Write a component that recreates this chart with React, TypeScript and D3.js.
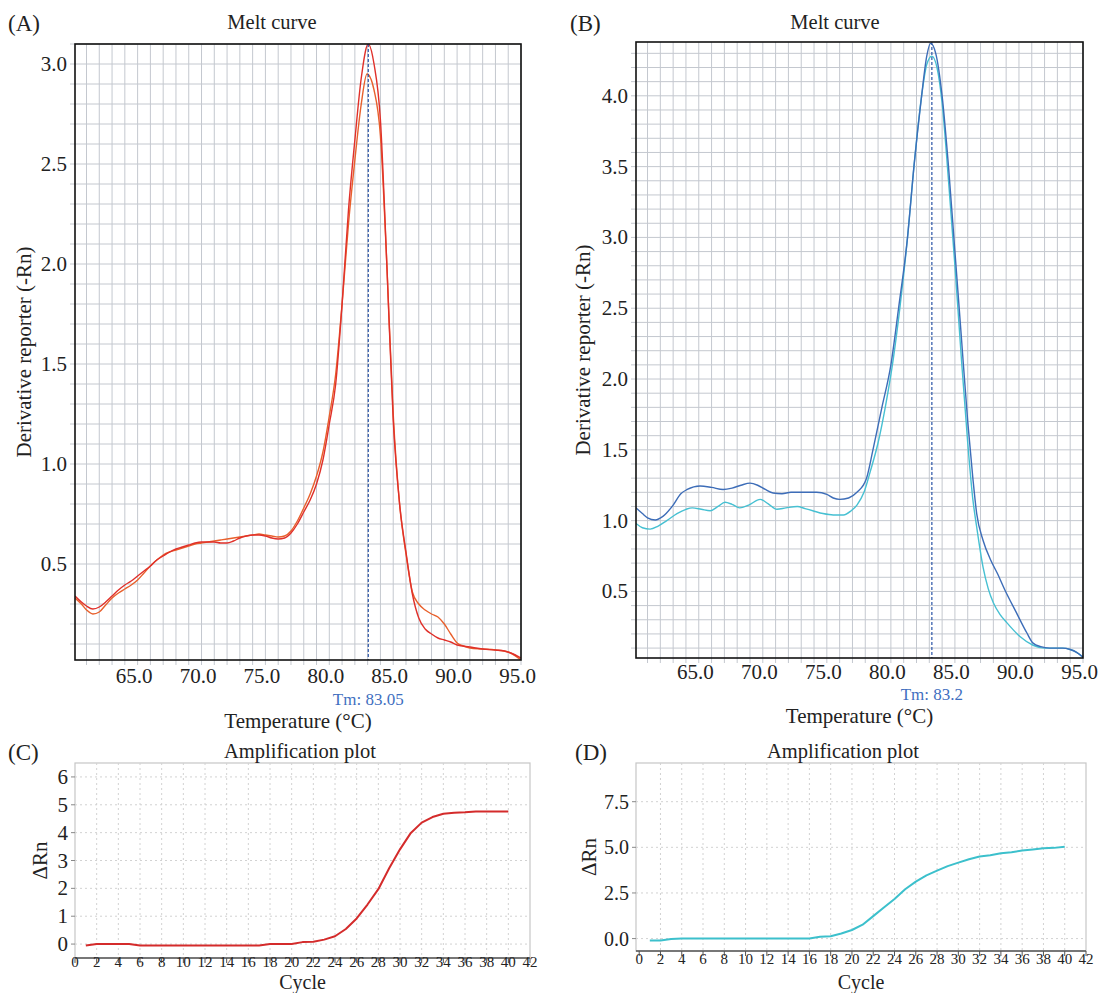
import React from "react";
import * as d3 from "d3";

const FONT = "'Liberation Serif', 'Times New Roman', serif";

// ---------- Panel A: melt curves (temperature, derivative) ----------
const meltA1: [number, number][] = [
  [60.1, 0.34], [60.6, 0.31], [61.0, 0.29], [61.5, 0.275], [62.0, 0.285], [62.5, 0.31], [63.0, 0.34],
  [63.5, 0.37], [64.0, 0.395], [64.5, 0.415], [65.0, 0.44], [65.5, 0.465], [66.0, 0.49], [66.5, 0.52],
  [67.0, 0.54], [67.5, 0.56], [68.0, 0.575], [68.5, 0.585], [69.0, 0.595], [69.5, 0.605], [70.0, 0.61],
  [70.5, 0.61], [71.0, 0.61], [71.5, 0.605], [72.0, 0.605], [72.5, 0.615], [73.0, 0.63], [73.5, 0.64],
  [74.0, 0.645], [74.5, 0.645], [75.0, 0.64], [75.5, 0.63], [76.0, 0.625], [76.5, 0.63], [77.0, 0.655],
  [77.5, 0.7], [78.0, 0.76], [78.5, 0.82], [79.0, 0.9], [79.5, 1.02], [80.0, 1.2], [80.5, 1.4],
  [81.0, 1.8], [81.5, 2.27], [82.0, 2.62], [82.5, 2.93], [83.05, 3.1], [83.5, 3.0], [84.0, 2.72],
  [84.5, 2.0], [85.0, 1.22], [85.5, 0.8], [86.0, 0.56], [86.5, 0.35], [87.0, 0.23], [87.5, 0.175],
  [88.0, 0.15], [88.5, 0.13], [89.0, 0.12], [89.5, 0.11], [90.0, 0.095], [91.0, 0.085], [92.0, 0.075],
  [93.0, 0.07], [93.7, 0.065], [94.2, 0.055], [95.0, 0.03],
];
const meltA2: [number, number][] = [
  [60.1, 0.33], [60.6, 0.3], [61.0, 0.27], [61.5, 0.25], [62.0, 0.26], [62.5, 0.295], [63.0, 0.33],
  [63.5, 0.355], [64.0, 0.375], [64.5, 0.395], [65.0, 0.42], [65.5, 0.455], [66.0, 0.49], [66.5, 0.52],
  [67.0, 0.545], [67.5, 0.56], [68.0, 0.57], [68.5, 0.58], [69.0, 0.59], [69.5, 0.6], [70.0, 0.605],
  [70.5, 0.61], [71.0, 0.615], [71.5, 0.62], [72.0, 0.625], [72.5, 0.63], [73.0, 0.635], [73.5, 0.64],
  [74.0, 0.645], [74.5, 0.65], [75.0, 0.645], [75.5, 0.64], [76.0, 0.635], [76.5, 0.64], [77.0, 0.665],
  [77.5, 0.715], [78.0, 0.78], [78.5, 0.85], [79.0, 0.94], [79.5, 1.06], [80.0, 1.24], [80.5, 1.45],
  [81.0, 1.8], [81.5, 2.2], [82.0, 2.52], [82.5, 2.8], [82.95, 2.95], [83.5, 2.87], [84.0, 2.64],
  [84.5, 2.0], [85.0, 1.25], [85.5, 0.8], [86.0, 0.55], [86.5, 0.36], [87.0, 0.3], [87.5, 0.27],
  [88.0, 0.25], [88.5, 0.235], [89.0, 0.2], [89.5, 0.15], [90.0, 0.105], [90.5, 0.09], [91.0, 0.08],
  [92.0, 0.075], [93.0, 0.07], [94.0, 0.06], [95.0, 0.02],
];

// ---------- Panel B: melt curves ----------
const meltB1: [number, number][] = [
  [60.1, 1.09], [60.6, 1.05], [61.0, 1.02], [61.6, 1.005], [62.2, 1.03], [63.0, 1.11], [63.6, 1.19],
  [64.1, 1.22], [65.1, 1.245], [66.0, 1.235], [66.9, 1.22], [67.6, 1.23], [68.3, 1.25], [69.0, 1.265],
  [69.6, 1.25], [70.2, 1.22], [70.8, 1.195], [71.5, 1.19], [72.2, 1.2], [73.0, 1.2], [74.2, 1.2],
  [75.0, 1.185], [75.5, 1.16], [76.0, 1.15], [76.7, 1.16], [77.35, 1.2], [78.1, 1.3], [78.6, 1.5],
  [79.3, 1.8], [80.0, 2.1], [80.6, 2.5], [81.3, 3.0], [81.8, 3.5], [82.4, 4.0], [82.8, 4.28],
  [83.1, 4.37], [83.5, 4.3], [84.0, 4.0], [84.5, 3.5], [85.0, 2.9], [85.5, 2.3], [86.0, 1.7],
  [86.4, 1.3], [86.7, 1.05], [87.2, 0.86], [87.8, 0.72], [88.3, 0.63], [88.9, 0.51], [89.8, 0.35],
  [90.6, 0.21], [91.1, 0.135], [91.7, 0.11], [92.4, 0.1], [93.4, 0.1], [94.0, 0.09], [94.5, 0.07],
  [95.0, 0.035],
];
const meltB2: [number, number][] = [
  [60.1, 0.98], [60.6, 0.95], [61.2, 0.94], [61.8, 0.96], [62.5, 1.0], [63.3, 1.05], [64.0, 1.08],
  [64.5, 1.09], [65.2, 1.08], [65.9, 1.07], [66.5, 1.1], [67.05, 1.13], [67.6, 1.115], [68.2, 1.09],
  [68.9, 1.11], [69.8, 1.15], [70.4, 1.12], [71.1, 1.08], [71.8, 1.09], [72.7, 1.1], [73.3, 1.085],
  [73.9, 1.07], [74.7, 1.05], [75.5, 1.04], [76.3, 1.04], [76.9, 1.07], [77.35, 1.11], [77.9, 1.2],
  [78.4, 1.35], [79.0, 1.55], [79.6, 1.82], [80.2, 2.15], [80.7, 2.5], [81.3, 3.0], [81.8, 3.5],
  [82.4, 4.0], [82.8, 4.22], [83.2, 4.28], [83.6, 4.2], [84.0, 3.95], [84.5, 3.4], [85.0, 2.8],
  [85.5, 2.15], [86.0, 1.55], [86.4, 1.15], [86.7, 0.955], [87.2, 0.67], [87.6, 0.52], [88.0, 0.42],
  [88.5, 0.34], [89.05, 0.28], [90.1, 0.18], [91.1, 0.12], [92.0, 0.1], [93.4, 0.1], [94.0, 0.09],
  [94.5, 0.07], [95.0, 0.035],
];

const meltXTicks = [65, 70, 75, 80, 85, 90, 95];
const meltYTicksA = [0.5, 1.0, 1.5, 2.0, 2.5, 3.0];
const meltYTicksB = [0.5, 1.0, 1.5, 2.0, 2.5, 3.0, 3.5, 4.0];

// ---------- Panels C / D: amplification ----------
const cycles = [
  1, 2, 3, 4, 5, 6, 7, 8, 9, 10, 11, 12, 13, 14, 15, 16, 17, 18, 19, 20,
  21, 22, 23, 24, 25, 26, 27, 28, 29, 30, 31, 32, 33, 34, 35, 36, 37, 38, 39, 40,
];
const ampC = [
  -0.05, 0.0, 0.0, 0.0, 0.0, -0.05, -0.05, -0.05, -0.05, -0.05, -0.05, -0.05, -0.05, -0.05, -0.05,
  -0.05, -0.05, 0.0, 0.0, 0.0, 0.07, 0.08, 0.16, 0.28, 0.54, 0.92, 1.42, 1.97, 2.72, 3.4, 3.99, 4.36,
  4.56, 4.68, 4.71, 4.73, 4.76, 4.76, 4.76, 4.76,
];
const ampD = [
  -0.1, -0.1, -0.02, 0, 0, 0, 0, 0, 0, 0, 0, 0, 0, 0, 0, 0, 0.1, 0.13, 0.28, 0.47, 0.76, 1.23, 1.7,
  2.17, 2.7, 3.12, 3.46, 3.72, 3.97, 4.16, 4.35, 4.5, 4.57, 4.67, 4.73, 4.82, 4.88, 4.95, 4.97, 5.03,
];
const ampXTicks = [0, 2, 4, 6, 8, 10, 12, 14, 16, 18, 20, 22, 24, 26, 28, 30, 32, 34, 36, 38, 40, 42];
const ampYTicksC = [0, 1, 2, 3, 4, 5, 6];
const ampYTicksD = [0, 2.5, 5.0, 7.5];

type MeltProps = {
  id: string;
  letter: string;
  letterX: number;
  left: number; right: number; top: number; bottom: number;
  xDomain: [number, number];
  yDomain: [number, number];
  yTicks: number[];
  series: { data: [number, number][]; color: string }[];
  tm: number;
  tmLabel: string;
  titleX: number;
  yLabelX: number;
  tickBase: number;
  tmBase: number;
  xLabelBase: number;
};

function MeltPanel(p: MeltProps) {
  const x = d3.scaleLinear().domain(p.xDomain).range([p.left, p.right]);
  const y = d3.scaleLinear().domain(p.yDomain).range([p.bottom, p.top]);
  const line = d3
    .line<[number, number]>()
    .x((d) => x(d[0]))
    .y((d) => y(d[1]))
    .curve(d3.curveMonotoneX);
  const vGrid = d3.range(Math.ceil(p.xDomain[0]), Math.floor(p.xDomain[1]) + 1);
  const hGrid = d3.range(1, Math.floor(p.yDomain[1] * 10 + 1e-6) + 1).map((i) => i / 10);
  const gridColor = "#c4c8cf";
  const cx = (p.left + p.right) / 2;
  const cy = (p.top + p.bottom) / 2;
  return (
    <g>
      <defs>
        <clipPath id={"clip" + p.id}>
          <rect x={p.left} y={p.top} width={p.right - p.left} height={p.bottom - p.top} />
        </clipPath>
      </defs>
      {vGrid.map((v) => (
        <line key={"v" + v} x1={x(v)} x2={x(v)} y1={p.top} y2={p.bottom + 5} stroke={gridColor} strokeWidth={1} />
      ))}
      {hGrid.map((v) => (
        <line key={"h" + v} x1={p.left - 5} x2={p.right} y1={y(v)} y2={y(v)} stroke={gridColor} strokeWidth={1} />
      ))}
      <g clipPath={`url(#clip${p.id})`}>
        {p.series.map((s, i) => (
          <path key={i} d={line(s.data) || ""} fill="none" stroke={s.color} strokeWidth={1.4} />
        ))}
      </g>
      <line x1={x(p.tm)} x2={x(p.tm)} y1={p.top} y2={p.bottom} stroke="#2b55a8" strokeWidth={1.2} strokeDasharray="3,2" />
      <rect x={p.left} y={p.top} width={p.right - p.left} height={p.bottom - p.top} fill="none" stroke="#111" strokeWidth={1.6} />
      {meltXTicks.map((t) => (
        <text key={"xt" + t} x={x(t) - 3.5} y={p.tickBase} textAnchor="middle" fontSize={21} fontFamily={FONT} fill="#222">
          {t.toFixed(1)}
        </text>
      ))}
      {p.yTicks.map((t) => (
        <text key={"yt" + t} x={p.left - 8} y={y(t) + 7} textAnchor="end" fontSize={21} fontFamily={FONT} fill="#222">
          {t.toFixed(1)}
        </text>
      ))}
      <text x={x(p.tm)} y={p.tmBase} textAnchor="middle" fontSize={17} fontFamily={FONT} fill="#3f6fbf">
        {p.tmLabel}
      </text>
      <text x={cx} y={p.xLabelBase} textAnchor="middle" fontSize={21} fontFamily={FONT} fill="#222">
        Temperature (°C)
      </text>
      <text
        x={p.yLabelX}
        y={cy}
        textAnchor="middle"
        fontSize={21}
        fontFamily={FONT}
        fill="#222"
        transform={`rotate(-90 ${p.yLabelX} ${cy})`}
        dominantBaseline="middle"
      >
        Derivative reporter (-Rn)
      </text>
      <text x={p.titleX} y={29} textAnchor="middle" fontSize={20.5} fontFamily={FONT} fill="#222">
        Melt curve
      </text>
      <text x={p.letterX} y={31} fontSize={23} fontFamily={FONT} fill="#222">
        {p.letter}
      </text>
    </g>
  );
}

type AmpProps = {
  letter: string;
  letterX: number;
  left: number; right: number; top: number; bottom: number;
  xDomain: [number, number];
  yDomain: [number, number];
  yTicks: number[];
  yFmt: (v: number) => string;
  yTickSize: number;
  values: number[];
  color: string;
  titleX: number;
  yLabelX: number;
  tickBase: number;
  xLabelBase: number;
};

function AmpPanel(p: AmpProps) {
  const x = d3.scaleLinear().domain(p.xDomain).range([p.left, p.right]);
  const y = d3.scaleLinear().domain(p.yDomain).range([p.bottom, p.top]);
  const pts: [number, number][] = cycles.map((c, i) => [c, p.values[i]]);
  const line = d3
    .line<[number, number]>()
    .x((d) => x(d[0]))
    .y((d) => y(d[1]));
  const cx = (p.left + p.right) / 2;
  const cy = (p.top + p.bottom) / 2;
  const gridColor = "#d2d2d2";
  return (
    <g>
      <rect x={p.left} y={p.top} width={p.right - p.left} height={p.bottom - p.top} fill="#fff" stroke="#c6c6c6" strokeWidth={1.2} />
      {ampXTicks.filter((t) => t > p.xDomain[0] + 0.5 && t < p.xDomain[1] - 0.5).map((t) => (
        <line key={"gx" + t} x1={x(t)} x2={x(t)} y1={p.top} y2={p.bottom} stroke={gridColor} strokeWidth={1} strokeDasharray="2,3" />
      ))}
      {p.yTicks.map((t) => (
        <line key={"gy" + t} x1={p.left} x2={p.right} y1={y(t)} y2={y(t)} stroke={gridColor} strokeWidth={1} strokeDasharray="2,3" />
      ))}
      <path d={line(pts) || ""} fill="none" stroke={p.color} strokeWidth={2} strokeLinejoin="round" />
      <line x1={p.left} x2={p.right} y1={p.bottom} y2={p.bottom} stroke="#555" strokeWidth={1.4} />
      {ampXTicks.map((t) => (
        <g key={"xt" + t}>
          <line x1={x(t)} x2={x(t)} y1={p.bottom} y2={p.bottom + 5} stroke="#555" strokeWidth={1} />
          <text x={x(t)} y={p.tickBase} textAnchor="middle" fontSize={15} fontFamily={FONT} fill="#222">
            {t}
          </text>
        </g>
      ))}
      {p.yTicks.map((t) => (
        <g key={"yt" + t}>
          <line x1={p.left - 4} x2={p.left} y1={y(t)} y2={y(t)} stroke="#888" strokeWidth={1} />
          <text x={p.left - 7} y={y(t) + 7} textAnchor="end" fontSize={p.yTickSize} fontFamily={FONT} fill="#222">
            {p.yFmt(t)}
          </text>
        </g>
      ))}
      <text x={cx} y={p.xLabelBase} textAnchor="middle" fontSize={20} fontFamily={FONT} fill="#222">
        Cycle
      </text>
      <text
        x={p.yLabelX}
        y={cy}
        textAnchor="middle"
        fontSize={21}
        fontFamily={FONT}
        fill="#222"
        dominantBaseline="middle"
        transform={`rotate(-90 ${p.yLabelX} ${cy})`}
      >
        ΔRn
      </text>
      <text x={p.titleX} y={758} textAnchor="middle" fontSize={20.5} fontFamily={FONT} fill="#222">
        Amplification plot
      </text>
      <text x={p.letterX} y={760} fontSize={23} fontFamily={FONT} fill="#222">
        {p.letter}
      </text>
    </g>
  );
}

export default function App() {
  return (
    <svg
      width={1098}
      height={993}
      viewBox="0 0 1098 993"
      style={{ position: "absolute", left: 0, top: 0, background: "#fff" }}
    >
      <rect x={0} y={0} width={1098} height={993} fill="#fff" />
      <MeltPanel
        id="A"
        letter="(A)"
        letterX={8}
        left={75}
        right={521}
        top={44}
        bottom={660}
        xDomain={[60.1, 95]}
        yDomain={[0.02, 3.1]}
        yTicks={meltYTicksA}
        series={[
          { data: meltA2, color: "#e8602c" },
          { data: meltA1, color: "#e0302a" },
        ]}
        tm={83.05}
        tmLabel="Tm: 83.05"
        titleX={272}
        yLabelX={26}
        tickBase={683}
        tmBase={705}
        xLabelBase={728}
      />
      <MeltPanel
        id="B"
        letter="(B)"
        letterX={570}
        left={636}
        right={1083}
        top={42}
        bottom={658}
        xDomain={[60.1, 95]}
        yDomain={[0.03, 4.38]}
        yTicks={meltYTicksB}
        series={[
          { data: meltB2, color: "#46c0d2" },
          { data: meltB1, color: "#3d6db8" },
        ]}
        tm={83.2}
        tmLabel="Tm: 83.2"
        titleX={835}
        yLabelX={585}
        tickBase={679}
        tmBase={700}
        xLabelBase={723}
      />
      <AmpPanel
        letter="(C)"
        letterX={8}
        left={75}
        right={530}
        top={763}
        bottom={958}
        xDomain={[0, 42]}
        yDomain={[-0.5, 6.5]}
        yTicks={ampYTicksC}
        yFmt={(v) => String(v)}
        yTickSize={21}
        values={ampC}
        color="#d42b2b"
        titleX={300}
        yLabelX={42}
        tickBase={967}
        xLabelBase={989}
      />
      <AmpPanel
        letter="(D)"
        letterX={575}
        left={636}
        right={1086}
        top={763}
        bottom={951}
        xDomain={[-0.3, 42]}
        yDomain={[-0.68, 9.62]}
        yTicks={ampYTicksD}
        yFmt={(v) => v.toFixed(1)}
        yTickSize={20}
        values={ampD}
        color="#3cc0cc"
        titleX={843}
        yLabelX={591}
        tickBase={964}
        xLabelBase={989}
      />
    </svg>
  );
}
